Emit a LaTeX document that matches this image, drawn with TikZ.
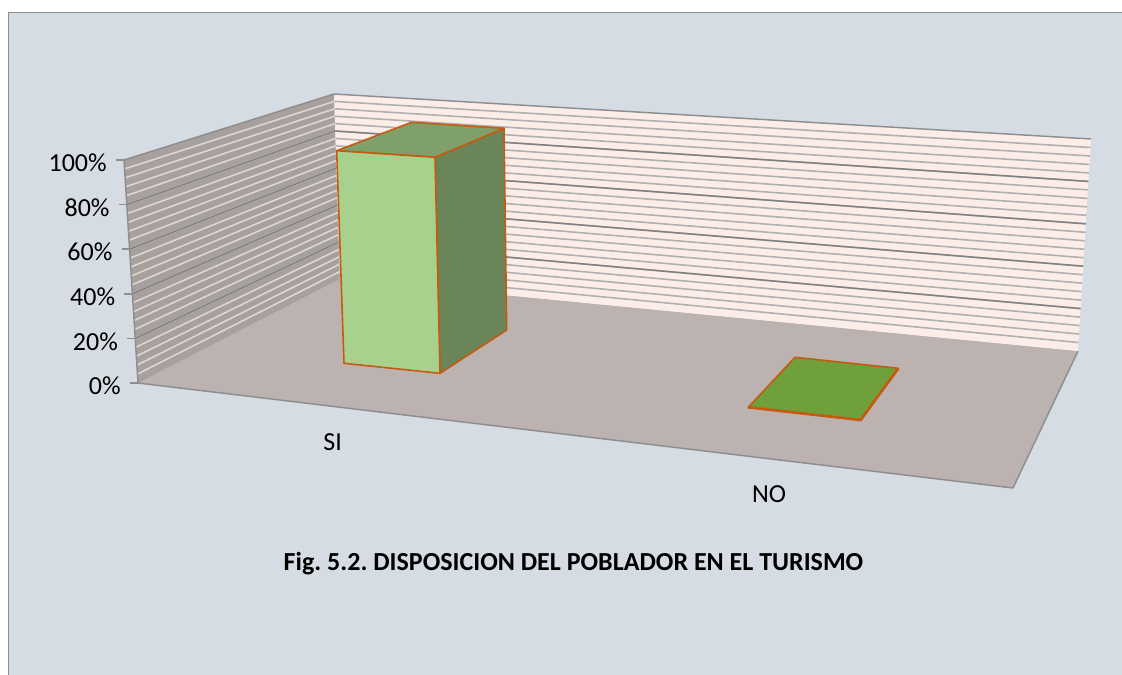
\documentclass[tikz,border=0pt]{standalone}
\usepackage{fontspec}
\setmainfont{Carlito}
\usetikzlibrary{calc}
\definecolor{chartbg}{RGB}{214,220,228}
\definecolor{framegray}{RGB}{142,142,142}
\definecolor{backwall}{RGB}{253,237,233}
\definecolor{backminor}{RGB}{176,176,176}
\definecolor{leftwall}{RGB}{168,160,157}
\definecolor{leftminor}{RGB}{218,215,213}
\definecolor{majorgray}{RGB}{128,128,128}
\definecolor{floorgray}{RGB}{188,178,175}
\definecolor{barfront}{RGB}{169,209,142}
\definecolor{bartop}{RGB}{127,160,107}
\definecolor{barside}{RGB}{106,134,88}
\definecolor{barflat}{RGB}{112,160,58}
\definecolor{barline}{RGB}{197,90,17}
\frenchspacing
\begin{document}
\begin{tikzpicture}[x=0.75pt,y=-0.75pt,line join=bevel,
  lbl/.style={font=\fontsize{19.5}{22}\selectfont,inner sep=0pt,text=black},
  titletext/.style={lbl,font=\fontsize{19.5}{22}\selectfont\bfseries},
  edgeline/.style={draw=framegray,line width=1.1pt},
  barface/.style={draw=barline,line width=1.2pt,line join=round},
]
\useasboundingbox (0,0) rectangle (1122,675);
\fill[white] (0,0) rectangle (1122,675);
\fill[chartbg] (8.3,12.7) rectangle (1122,675);
\draw[framegray,line width=1pt] (8.3,675) -- (8.3,12.7) -- (1122,12.7);
%% corners of the walls and the floor
\coordinate (lw_ft) at (124,160);
\coordinate (lw_fb) at (138,383);
\coordinate (bw_lt) at (334,94);
\coordinate (bw_lb) at (340,279);
\coordinate (bw_rt) at (1091,139);
\coordinate (bw_rb) at (1078,351);
\coordinate (fl_fr) at (1013,488);
%% floor
\fill[floorgray] (lw_fb) -- (bw_lb) -- (bw_rb) -- (fl_fr) -- cycle;
\draw[edgeline] (lw_fb) -- (fl_fr) -- (bw_rb);
%% left wall
\fill[leftwall] (lw_fb) -- (lw_ft) -- (bw_lt) -- (bw_lb) -- cycle;
\foreach \i in {1,...,24}
  \draw[leftminor,line width=1.2pt] ($(lw_fb)!\i/25!(lw_ft)$) -- ($(bw_lb)!\i/25!(bw_lt)$);
\foreach \i in {5,10,15,20}
  \draw[majorgray,line width=1.1pt] ($(lw_fb)!\i/25!(lw_ft)$) -- ($(bw_lb)!\i/25!(bw_lt)$);
\draw[edgeline] (lw_ft) -- (bw_lt);
%% back wall
\fill[backwall] (bw_lb) -- (bw_lt) -- (bw_rt) -- (bw_rb) -- cycle;
\foreach \i in {1,...,24}
  \draw[backminor,line width=1.2pt] ($(bw_lb)!\i/25!(bw_lt)$) -- ($(bw_rb)!\i/25!(bw_rt)$);
\foreach \i in {5,10,15,20}
  \draw[majorgray,line width=1.1pt] ($(bw_lb)!\i/25!(bw_lt)$) -- ($(bw_rb)!\i/25!(bw_rt)$);
\draw[edgeline] (bw_lt) -- (bw_rt);
%% value axis, ticks and labels
\draw[edgeline] (lw_fb) -- (lw_ft);
\foreach \p in {0,20,...,100} {
  \draw[edgeline] ($(lw_fb)!\p/100!(lw_ft)$) -- ++(-8,0);
  \node[lbl,anchor=east] (lab\p) at ($(lw_fb)!\p/100!(lw_ft)+(-17,3)$) {\p\%};
}
%% bar SI
\coordinate (si_ftl) at (336.7,150.7);
\coordinate (si_ftr) at (435,157.3);
\coordinate (si_fbr) at (440,373.3);
\coordinate (si_fbl) at (344,363.3);
\coordinate (si_btl) at (411.7,122.3);
\coordinate (si_btr) at (504,128.3);
\coordinate (si_bbr) at (506.7,330);
\filldraw[barface,fill=barside] (si_ftr) -- (si_btr) -- (si_bbr) -- (si_fbr) -- cycle;
\filldraw[barface,fill=bartop] (si_ftl) -- (si_btl) -- (si_btr) -- (si_ftr) -- cycle;
\filldraw[barface,fill=barfront] (si_ftl) -- (si_ftr) -- (si_fbr) -- (si_fbl) -- cycle;
%% bar NO
\coordinate (no_bl) at (795,357.3);
\coordinate (no_br) at (898.3,368.3);
\coordinate (no_fr) at (860.7,420);
\coordinate (no_fl) at (748.3,407.3);
\filldraw[barface,fill=barflat] (no_bl) -- (no_br) -- (no_fr) -- (no_fl) -- cycle;
\draw[barline,line width=2pt] (no_fl) -- (no_fr) -- (no_br);
%% category labels and title
\node[lbl] (cat_si) at (332.7,442.5) {SI};
\node[lbl] (cat_no) at (769,494) {NO};
\node[titletext] (title) at (573.5,564) {Fig. 5.2. DISPOSICION DEL POBLADOR EN EL TURISMO};
\end{tikzpicture}
\end{document}
